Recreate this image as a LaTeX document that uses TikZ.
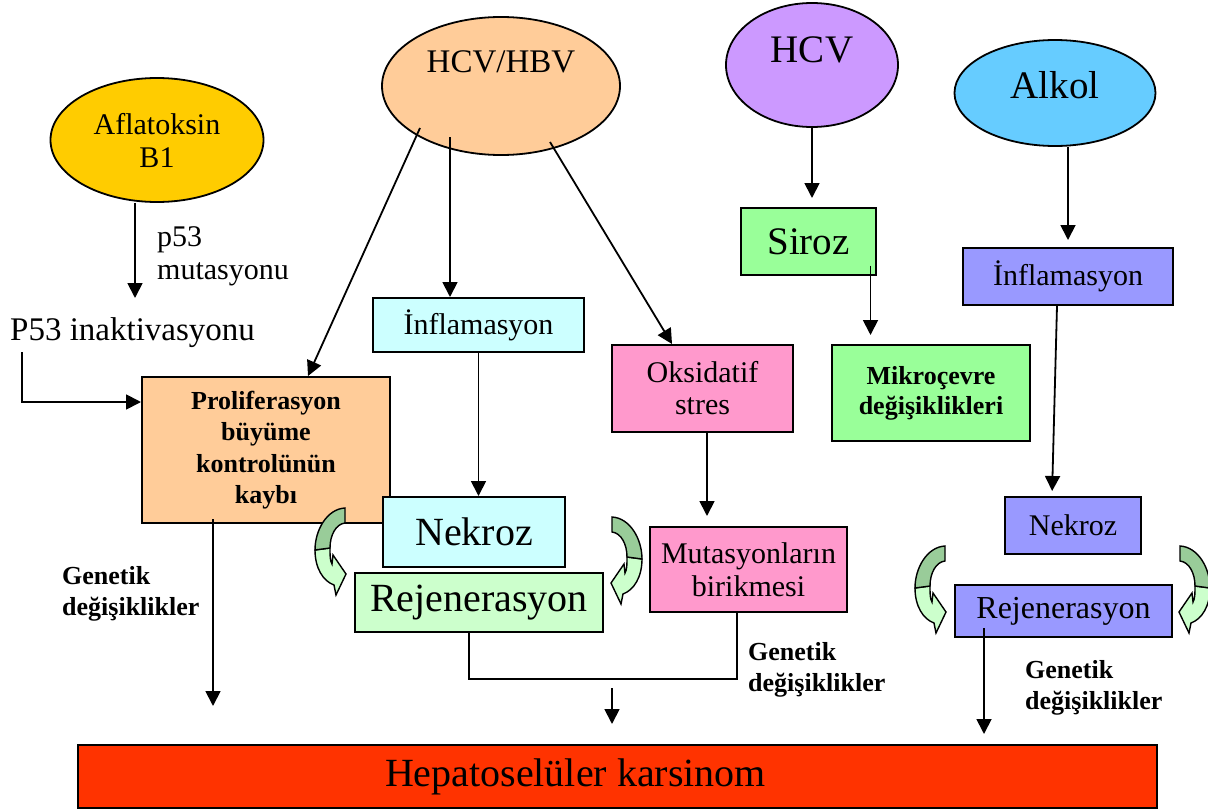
\documentclass[tikz,border=0pt]{standalone}
\usepackage{fontspec}
\setmainfont{Liberation Serif}
\usetikzlibrary{arrows.meta, shapes.geometric, calc}
\definecolor{aflayellow}{HTML}{FFCC00}
\definecolor{peach}{HTML}{FFCC99}
\definecolor{lilac}{HTML}{CC99FF}
\definecolor{skyblue}{HTML}{66CCFF}
\definecolor{mintgreen}{HTML}{99FF99}
\definecolor{palegreen}{HTML}{CCFFCC}
\definecolor{palecyan}{HTML}{CCFFFF}
\definecolor{pinkbox}{HTML}{FF99CC}
\definecolor{periwinkle}{HTML}{9999FF}
\definecolor{hccred}{HTML}{FF3300}
\definecolor{arrdark}{HTML}{99CC99}

\begin{document}
\begin{tikzpicture}[x=1pt, y=-1pt,
  ellnode/.style={ellipse, draw=black, line width=1.8pt, inner sep=0pt, align=center},
  boxnode/.style={rectangle, draw=black, line width=2pt, inner sep=0pt, align=center},
  txtnode/.style={inner sep=0pt, align=left},
  hugefont/.style={font=\fontsize{40}{44}\selectfont},
  largefont/.style={font=\fontsize{39}{44}\selectfont},
  midfont/.style={font=\fontsize{30}{33}\selectfont},
  boldfont/.style={font=\fontsize{26}{31.5}\selectfont\bfseries},
  arr/.style={-{Triangle[length=15pt, width=15pt]}, line width=1.8pt},
  plainline/.style={line width=1.8pt},
  bendarr/.pic={
    \filldraw[fill=palegreen, draw=black, line width=1.4pt]
      (-30,42) .. controls (-30,60) and (-22,73) .. (-11,77)
      -- (-9,87) -- (1,66) -- (-12,47) -- (-13,56)
      .. controls (-15,53) and (-15,47) .. (-15,40) -- cycle;
    \filldraw[fill=arrdark, draw=black, line width=1.4pt]
      (0,0) .. controls (-18,1) and (-30,22) .. (-30,42)
      -- (-15,40) .. controls (-15,27) and (-9,16) .. (0,15) -- cycle;
  }
]
  \useasboundingbox (0,0) rectangle (1208,811);

  % Etkenler
  \node[ellnode, fill=aflayellow, minimum width=213pt, minimum height=124pt, midfont] (aflatoksin) at (157,140) {Aflatoksin\\B1};
  \node[ellnode, fill=peach, minimum width=238pt, minimum height=138pt] (hcvhbv) at (501,86) {};
  \node[inner sep=0pt, font=\fontsize{33}{38}\selectfont] (hcvhbvtxt) at (501,62) {HCV/HBV};
  \node[ellnode, fill=lilac, minimum width=172pt, minimum height=124pt] (hcv) at (812,65) {};
  \node[inner sep=0pt, largefont] (hcvtxt) at (812,50) {HCV};
  \node[ellnode, fill=skyblue, minimum width=201pt, minimum height=106pt] (alkol) at (1055,93) {};
  \node[inner sep=0pt, largefont] (alkoltxt) at (1055,85) {Alkol};

  % Ara basamaklar
  \node[txtnode, midfont, anchor=west] (p53mut) at (157,256) {p53\\mutasyonu};
  \node[txtnode, font=\fontsize{33}{38}\selectfont, anchor=west] (p53inakt) at (10,333) {P53 inaktivasyonu};
  \node[boxnode, fill=peach, minimum width=248pt, minimum height=146pt, boldfont] (prolif) at (266,450) {Proliferasyon\\b\"uy\"ume\\kontrol\"un\"un\\kayb\i};
  \node[boxnode, fill=palecyan, minimum width=211pt, minimum height=54pt, midfont] (inflam1) at (478.5,325) {\.Inflamasyon};
  \node[boxnode, fill=palecyan, minimum width=182pt, minimum height=70pt, hugefont] (nekroz1) at (474,532) {Nekroz};
  \node[boxnode, fill=palegreen, minimum width=248pt, minimum height=59pt, hugefont] (rejen1) at (479,602.5) {Rejenerasyon};
  \node[boxnode, fill=pinkbox, minimum width=181pt, minimum height=87pt, font=\fontsize{30}{32}\selectfont] (oksidatif) at (702.5,388.5) {Oksidatif\\stres};
  \node[boxnode, fill=pinkbox, minimum width=197pt, minimum height=85pt, midfont] (mutasyon) at (748.5,569.5) {Mutasyonlar\i n\\birikmesi};
  \node[boxnode, fill=mintgreen, minimum width=135pt, minimum height=67pt, largefont] (siroz) at (808.5,241.5) {Siroz};
  \node[boxnode, fill=mintgreen, minimum width=198pt, minimum height=96pt, font=\fontsize{26}{30}\selectfont\bfseries] (mikro) at (931,393) {Mikro\c{c}evre\\de\u{g}i\c{s}iklikleri};
  \node[boxnode, fill=periwinkle, minimum width=210pt, minimum height=57pt, midfont] (inflam2) at (1068,276.5) {\.Inflamasyon};
  \node[boxnode, fill=periwinkle, minimum width=136pt, minimum height=57pt, midfont] (nekroz2) at (1073,525.5) {Nekroz};
  \node[boxnode, fill=periwinkle, minimum width=217pt, minimum height=52pt, font=\fontsize{32}{36}\selectfont] (rejen2) at (1063.5,611) {Rejenerasyon};

  % Sonuc
  \node[boxnode, fill=hccred, minimum width=1079pt, minimum height=63pt] (hcc) at (617.5,776.5) {};
  \node[inner sep=0pt, hugefont] (hcctxt) at (575.5,777) {Hepatosel\"uler karsinom};

  % Genetik degisiklikler etiketleri
  \node[txtnode, boldfont, anchor=west] (gen1) at (62,594) {Genetik\\de\u{g}i\c{s}iklikler};
  \node[txtnode, boldfont, anchor=west] (gen2) at (748,670) {Genetik\\de\u{g}i\c{s}iklikler};
  \node[txtnode, boldfont, anchor=west] (gen3) at (1025,688) {Genetik\\de\u{g}i\c{s}iklikler};

  % Oklar
  \coordinate (p53end) at (135,298);
  \draw[arr] (aflatoksin.south -| p53end) -- (p53end);
  \draw[arr] ([xshift=12pt, yshift=-4pt]p53inakt.south west) |- ([yshift=48pt]prolif.west);

  \coordinate (tailprolif) at (420,128);
  \coordinate (tailinflam) at (450,137);
  \coordinate (tailoks) at (550,142);
  \draw[arr] (tailprolif) -- ([xshift=42pt]prolif.north);
  \draw[arr] (tailinflam) -- (tailinflam |- inflam1.north);
  \draw[arr] (tailoks) -- ([xshift=-30.5pt]oksidatif.north);
  \draw[arr] (inflam1.south) -- (inflam1.south |- nekroz1.north);
  \draw[arr, shorten >=10pt] ([xshift=4.5pt]oksidatif.south) -- ([xshift=4.5pt]oksidatif.south |- mutasyon.north);

  \draw[arr, shorten >=9pt] (hcv.south) -- (hcv.south |- siroz.north);
  \draw[arr, shorten >=9pt] ([xshift=62pt, yshift=-24pt]siroz.center) -- ([xshift=62pt]siroz.center |- mikro.north);

  \draw[arr, shorten >=7pt] (inflam2.north |- alkol.south) -- (inflam2.north);
  \draw[arr, shorten >=5pt] ([xshift=-11pt]inflam2.south) -- ([xshift=-21pt]nekroz2.north);

  \draw[arr, shorten >=38pt] ([xshift=-53pt, yshift=5pt]prolif.south) -- ([xshift=-53pt]prolif.south |- hcc.north);
  \coordinate (joinmid) at (612,679);
  \draw[plainline] ([xshift=-11.5pt]mutasyon.south) |- (joinmid) -| ([xshift=-10pt]rejen1.south);
  \draw[arr, shorten >=20pt] ([yshift=-9pt]joinmid) -- (joinmid |- hcc.north);
  \draw[arr, shorten >=10pt] ([xshift=-79.5pt, yshift=10pt]rejen2.south) -- ([xshift=-79.5pt]rejen2.south |- hcc.north);

  % Kivrik oklar
  \pic at (345,508) {bendarr};
  \pic[xscale=-1] at (612,517) {bendarr};
  \pic at (945,546) {bendarr};
  \pic[xscale=-1] at (1180,546) {bendarr};
\end{tikzpicture}
\end{document}
